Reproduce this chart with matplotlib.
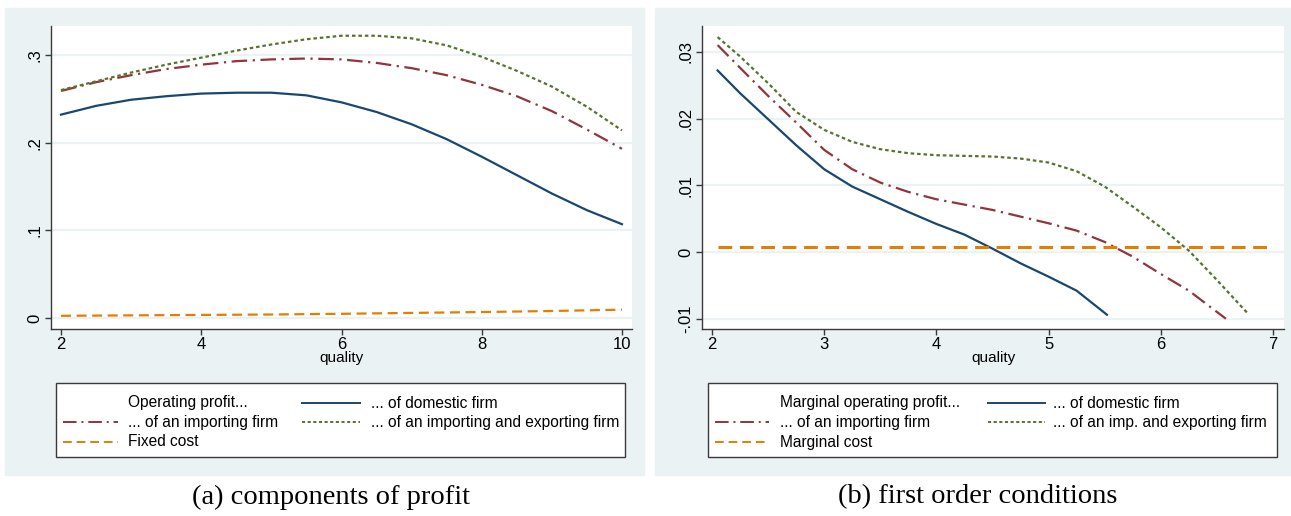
import numpy as np
import matplotlib.pyplot as plt
from matplotlib.lines import Line2D
from matplotlib.patches import Rectangle

plt.rcParams['font.family'] = ['Liberation Sans', 'DejaVu Sans']

# panel (a): operating profit by quality
qa = [2, 2.5, 3, 3.5, 4, 4.5, 5, 5.5, 6, 6.5, 7, 7.5, 8, 8.5, 9, 9.5, 10]
prof_dom = [0.232, 0.242, 0.249, 0.253, 0.256, 0.257, 0.257, 0.254, 0.246, 0.235,
            0.221, 0.204, 0.184, 0.163, 0.142, 0.123, 0.107]
prof_imp = [0.259, 0.269, 0.277, 0.284, 0.289, 0.293, 0.295, 0.296, 0.295, 0.291,
            0.285, 0.277, 0.266, 0.253, 0.236, 0.215, 0.193]
prof_impexp = [0.260, 0.270, 0.280, 0.289, 0.297, 0.305, 0.312, 0.318, 0.322, 0.322,
               0.319, 0.311, 0.298, 0.282, 0.264, 0.241, 0.214]
qa_fc = [2, 3, 4, 5, 6, 7, 8, 9, 10]
fixed_cost = [0.0025, 0.003, 0.0035, 0.004, 0.0048, 0.0058, 0.0068, 0.008, 0.0095]

# panel (b): marginal operating profit by quality
qb_dom = [2.05, 2.25, 2.5, 2.75, 3, 3.25, 3.5, 3.75, 4, 4.25, 4.5, 4.75, 5, 5.25, 5.52]
mp_dom = [0.0272, 0.0238, 0.0199, 0.0160, 0.0124, 0.0098, 0.0079, 0.0060, 0.0042,
          0.0026, 0.0005, -0.0017, -0.0037, -0.0058, -0.0094]
qb_imp = [2.05, 2.25, 2.5, 2.75, 3, 3.25, 3.5, 3.75, 4, 4.25, 4.5, 4.75, 5, 5.25,
          5.5, 5.75, 6, 6.25, 6.58]
mp_imp = [0.0310, 0.0276, 0.0234, 0.0194, 0.0153, 0.0124, 0.0104, 0.0090, 0.0079,
          0.0071, 0.0063, 0.0053, 0.0043, 0.0032, 0.0015, -0.0007, -0.0033, -0.0058,
          -0.0100]
qb_impexp = [2.05, 2.25, 2.5, 2.75, 3, 3.25, 3.5, 3.75, 4, 4.25, 4.5, 4.75, 5, 5.25,
             5.5, 5.75, 6, 6.25, 6.5, 6.78]
mp_impexp = [0.0322, 0.0293, 0.0253, 0.0210, 0.0183, 0.0165, 0.0154, 0.0148, 0.0145,
             0.0144, 0.0143, 0.0140, 0.0134, 0.0121, 0.0098, 0.0068, 0.0037, 0.0002,
             -0.0042, -0.0093]
qb_mc = [2.05, 7.0]
marg_cost = [0.0008, 0.0008]

labels_a = ['Operating profit...', '... of domestic firm', '... of an importing firm',
            '... of an importing and exporting firm', 'Fixed cost']
labels_b = ['Marginal operating profit...', '... of domestic firm',
            '... of an importing firm', '... of an imp. and exporting firm',
            'Marginal cost']

navy = '#1A476F'
maroon = '#90353B'
green = '#55752F'
orange = '#E37E00'
bg = '#EAF2F3'

W, H = 1291, 516
fig = plt.figure(figsize=(W / 100, H / 100), dpi=100)

def fx(px):
    return px / W

def fy(py):
    return 1 - py / H

# grey graph regions behind each panel
for l, r in [(5, 644), (655, 1291)]:
    fig.add_artist(Rectangle((fx(l), fy(475)), fx(r - l), (475 - 8) / H,
                             transform=fig.transFigure, color=bg, zorder=-10))

ax1 = fig.add_axes([fx(51), fy(329), fx(632 - 51), (329 - 26) / H])
ax2 = fig.add_axes([fx(702), fy(329), fx(1284 - 702), (329 - 26) / H])

dash_dot = (0, (7, 2.5, 1, 2.5))
dots = (0, (1.6, 1.3))
dashes = (0, (4.5, 2.5))

def style(ax, xticks, yticks, ylabels):
    ax.set_facecolor('white')
    for s in ['top', 'right']:
        ax.spines[s].set_visible(False)
    for s in ['left', 'bottom']:
        ax.spines[s].set_color('#3a3a3a')
        ax.spines[s].set_linewidth(1.0)
    ax.set_xticks(xticks)
    ax.set_yticks(yticks)
    ax.set_yticklabels(ylabels, rotation=90, va='center')
    ax.tick_params(axis='both', direction='out', length=4.5, width=1, color='#3a3a3a',
                   labelsize=12, pad=1.5)
    ax.grid(axis='y', color=bg, lw=1.6)
    ax.set_axisbelow(True)
    ax.set_xlabel('quality', fontsize=11, labelpad=-1)

# panel (a)
ax1.plot(qa, prof_dom, color=navy, lw=1.6)
ax1.plot(qa, prof_imp, color=maroon, lw=1.6, linestyle=dash_dot)
ax1.plot(qa, prof_impexp, color=green, lw=1.6, linestyle=dots)
ax1.plot(qa_fc, fixed_cost, color=orange, lw=1.6, linestyle=dashes)
ax1.set_xlim(1.857, 10.143)
ax1.set_ylim(-0.01255, 0.3331)
style(ax1, [2, 4, 6, 8, 10], [0, 0.1, 0.2, 0.3], ['0', '.1', '.2', '.3'])

# panel (b)
ax2.plot(qb_dom, mp_dom, color=navy, lw=1.6)
ax2.plot(qb_imp, mp_imp, color=maroon, lw=1.6, linestyle=dash_dot)
ax2.plot(qb_impexp, mp_impexp, color=green, lw=1.6, linestyle=dots)
ax2.plot(qb_mc, marg_cost, color=orange, lw=2.2, linestyle=dashes)
ax2.set_xlim(1.911, 7.098)
ax2.set_ylim(-0.01154, 0.03386)
style(ax2, [2, 3, 4, 5, 6, 7], [-0.01, 0, 0.01, 0.02, 0.03],
      ['-.01', '0', '.01', '.02', '.03'])

# two-column legend boxes, laid out by hand
key_styles = [None, dict(color=navy), dict(color=maroon, linestyle=dash_dot),
              dict(color=green, linestyle=dots), dict(color=orange, linestyle=dashes)]
rows = [403, 422, 442]

def draw_legend(labels, box, col_keys, col_text):
    l, r = box
    fig.add_artist(Rectangle((fx(l), fy(457)), fx(r - l), (457 - 383) / H,
                             transform=fig.transFigure, facecolor='white',
                             edgecolor='#3a3a3a', lw=1.0, zorder=5))
    for i, (lab, ks) in enumerate(zip(labels, key_styles)):
        col, row = i % 2, i // 2
        y = fy(rows[row])
        k0, k1 = col_keys[col]
        if ks is not None:
            fig.add_artist(Line2D([fx(k0), fx(k1)], [y, y], lw=1.4,
                                  transform=fig.transFigure, zorder=6, **ks))
        fig.text(fx(col_text[col]), y, lab, ha='left', va='center',
                 fontsize=11.2, zorder=6)

draw_legend(labels_a, (56, 625), [(63, 118), (302, 360)], [128, 371])
draw_legend(labels_b, (708, 1277), [(715, 769), (988, 1045)], [780, 1053])

fig.text(fx(331), fy(497), '(a) components of profit', ha='center', va='center',
         fontsize=20.5, family=['Liberation Serif', 'DejaVu Serif'])
fig.text(fx(978), fy(497), '(b) first order conditions', ha='center', va='center',
         fontsize=20.5, family=['Liberation Serif', 'DejaVu Serif'])

fig.savefig('out.png', dpi=100)
